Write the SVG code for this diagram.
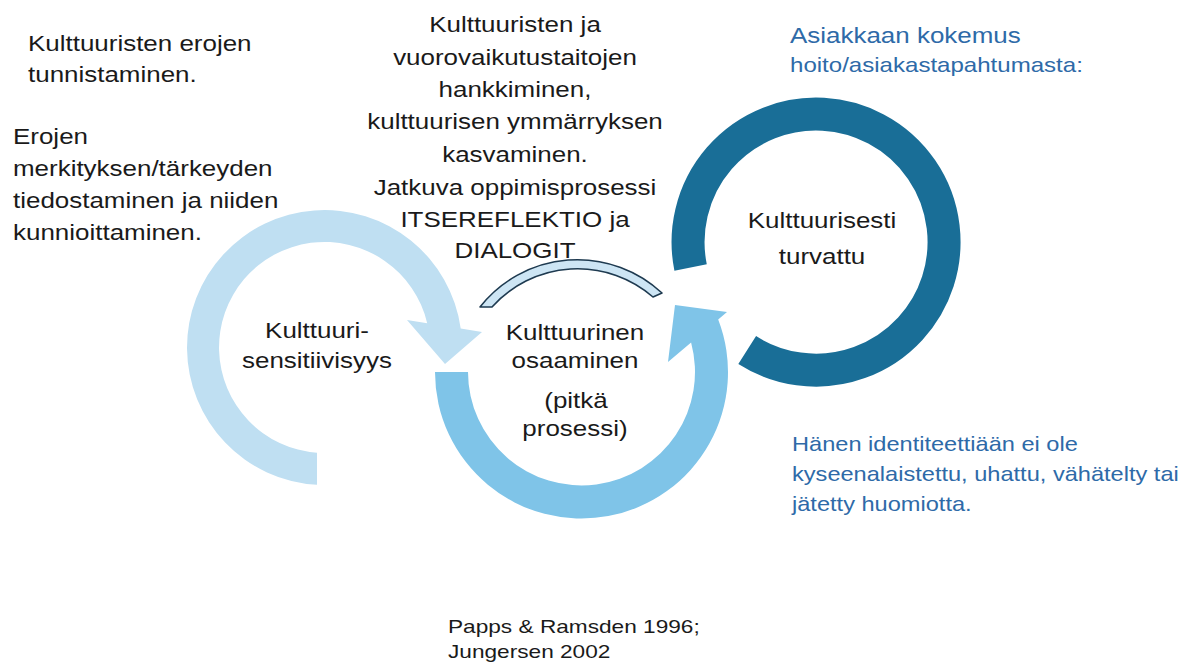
<svg xmlns="http://www.w3.org/2000/svg" width="1186" height="662" viewBox="0 0 1186 662">
<style>
  .t{font-family:"Liberation Sans",Arial,sans-serif;font-size:22px;fill:#1a1a1a}
  .c{text-anchor:middle}
  .b{fill:#2E6AA8}
  .s20{font-size:20px}
  .s19{font-size:19.2px}
</style>
<rect width="1186" height="662" fill="#ffffff"/>

<g id="connectors">
  <path d="M480,307 A124,124 0 0 1 662,293 L653,297 A115,115 0 0 0 492,307 Z" fill="#CDE5F4" stroke="#1E3A50" stroke-width="1.6" stroke-linejoin="round"/>
</g>

<g id="node-kulttuurisensitiivisyys">
  <path d="M317,484.8 A137.5,137.5 0 1 1 460.7,328.5 L482,332 L445,364 L407,320 L427.2,323.2 A105.5,105.5 0 1 0 317,452.7 Z" fill="#BFDFF2"/>
  <text class="t c" transform="translate(317,338) scale(1.18,1)">Kulttuuri-</text>
  <text class="t c" transform="translate(317,368) scale(1.18,1)">sensitiivisyys</text>
</g>

<g id="node-kulttuurinen-osaaminen">
  <path d="M435,372 A146.5,146.5 0 1 0 718.2,319.4 L727,312 L675,305 L668,362 L691.1,342.4 A113.5,113.5 0 1 1 468,372 Z" fill="#7FC4E8"/>
  <text class="t c" transform="translate(575,340) scale(1.18,1)">Kulttuurinen</text>
  <text class="t c" transform="translate(575,368) scale(1.18,1)">osaaminen</text>
  <text class="t c" transform="translate(576,408) scale(1.18,1)">(pitkä</text>
  <text class="t c" transform="translate(575,436) scale(1.18,1)">prosessi)</text>
</g>

<g id="node-kulttuurisesti-turvattu">
  <path d="M690.6,267.5 A128,128 0 1 1 747.2,350" fill="none" stroke="#196E97" stroke-width="33"/>
  <text class="t c" transform="translate(822,228) scale(1.18,1)">Kulttuurisesti</text>
  <text class="t c" transform="translate(822,264) scale(1.18,1)">turvattu</text>
</g>

<g id="note-tunnistaminen">
  <text class="t" transform="translate(28,51) scale(1.18,1)">Kulttuuristen erojen</text>
  <text class="t" transform="translate(28,82) scale(1.18,1)">tunnistaminen.</text>
</g>

<g id="note-erojen">
  <text class="t" transform="translate(13,144) scale(1.18,1)">Erojen</text>
  <text class="t" transform="translate(13,176) scale(1.18,1)">merkityksen/tärkeyden</text>
  <text class="t" transform="translate(13,208) scale(1.18,1)">tiedostaminen ja niiden</text>
  <text class="t" transform="translate(13,240) scale(1.18,1)">kunnioittaminen.</text>
</g>

<g id="note-taidot">
  <text class="t c" transform="translate(515,32) scale(1.18,1)">Kulttuuristen ja</text>
  <text class="t c" transform="translate(515,65) scale(1.18,1)">vuorovaikutustaitojen</text>
  <text class="t c" transform="translate(515,97) scale(1.18,1)">hankkiminen,</text>
  <text class="t c" transform="translate(515,129) scale(1.18,1)">kulttuurisen ymmärryksen</text>
  <text class="t c" transform="translate(515,162) scale(1.18,1)">kasvaminen.</text>
  <text class="t c" transform="translate(515,195) scale(1.18,1)">Jatkuva oppimisprosessi</text>
  <text class="t c" transform="translate(515,227) scale(1.18,1)">ITSEREFLEKTIO ja</text>
  <text class="t c" transform="translate(515,258) scale(1.18,1)">DIALOGIT</text>
</g>

<g id="note-asiakkaan-kokemus">
  <text class="t b" transform="translate(790,43) scale(1.18,1)">Asiakkaan kokemus</text>
  <text class="t b" style="font-size:20.4px" transform="translate(790,72) scale(1.18,1)">hoito/asiakastapahtumasta:</text>
</g>

<g id="note-identiteetti">
  <text class="t b s20" transform="translate(792,451) scale(1.18,1)">Hänen identiteettiään ei ole</text>
  <text class="t b s20" transform="translate(792,481) scale(1.18,1)">kyseenalaistettu, uhattu, vähätelty tai</text>
  <text class="t b s20" transform="translate(792,511) scale(1.18,1)">jätetty huomiotta.</text>
</g>

<g id="note-lahteet">
  <text class="t s19" transform="translate(448,633) scale(1.18,1)">Papps &amp; Ramsden 1996;</text>
  <text class="t s19" transform="translate(448,658) scale(1.18,1)">Jungersen 2002</text>
</g>
</svg>
